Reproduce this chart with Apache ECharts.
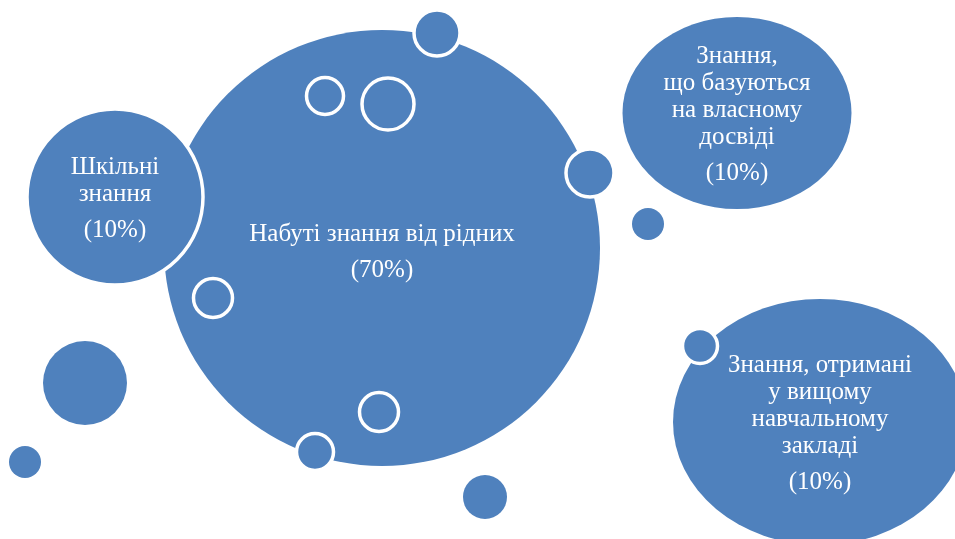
<!DOCTYPE html>
<html>
<head>
<meta charset="utf-8">
<script src="https://cdn.jsdelivr.net/npm/echarts@6/dist/echarts.min.js"></script>
<style>
  html, body { margin: 0; padding: 0; background: #fff; }
  #chart { width: 955px; height: 539px; }
</style>
</head>
<body>
<div id="chart"></div>
<script>
// bubble centres (x, y on the page plane) and diameters [w, h]
var bubbleX = [382, 115, 437, 325, 388, 213, 379, 315, 85, 25, 485, 590, 648, 737, 820, 700];
var bubbleY = [248, 197, 33, 96, 104, 298, 412, 452, 383, 462, 497, 173, 224, 113, 422, 346];
var bubbleW = [436, 176, 46, 37, 52, 39, 39, 37, 84, 32, 44, 48, 32, 229, 294, 35];
var bubbleH = [436, 176, 46, 37, 52, 39, 39, 37, 84, 32, 44, 48, 32, 192, 246, 35];
// "fill" plain, "edge" filled with white outline, "ring" hollow white
var bubbleKind = ["fill", "edge", "edge", "ring", "ring", "ring", "ring", "edge",
                  "fill", "fill", "fill", "edge", "fill", "fill", "fill", "edge"];
var bubbleText = [
  ["Набуті знання від рідних"],
  ["Шкільні", "знання"],
  [], [], [], [], [], [], [], [], [], [], [],
  ["Знання,", "що базуються", "на власному", "досвіді"],
  ["Знання, отримані", "у вищому", "навчальному", "закладі"],
  []
];
var bubbleShare = ["70%", "10%", "", "", "", "", "", "", "", "", "", "", "", "10%", "10%", ""];

var blue = "#4F81BD";
var chart = echarts.init(document.getElementById("chart"));

var data = bubbleX.map(function (x, i) {
  var kind = bubbleKind[i];
  var item = {
    value: [x, bubbleY[i]],
    symbolSize: [bubbleW[i], bubbleH[i]],
    itemStyle: {
      color: kind === "ring" ? "rgba(0,0,0,0)" : blue,
      borderColor: "#fff",
      borderWidth: kind === "fill" ? 0 : 3.5,
      opacity: 1
    }
  };
  if (bubbleText[i].length) {
    item.label = {
      show: true,
      position: "inside",
      offset: [0, i === 0 ? 9 : 6],
      formatter: bubbleText[i].join("\n") + "\n{p|(" + bubbleShare[i] + ")}"
    };
  }
  return item;
});

chart.setOption({
  animation: false,
  grid: { left: 0, right: 0, top: 0, bottom: 0 },
  xAxis: { type: "value", min: 0, max: 955, show: false },
  yAxis: { type: "value", min: 0, max: 539, inverse: true, show: false },
  series: [{
    type: "scatter",
    symbol: "circle",
    data: data,
    itemStyle: { opacity: 1 },
    label: {
      color: "#fff",
      fontFamily: "Liberation Serif",
      fontSize: 25,
      lineHeight: 27,
      align: "center",
      rich: {
        p: { color: "#fff", fontFamily: "Liberation Serif", fontSize: 25, lineHeight: 45 }
      }
    },
    emphasis: { disabled: true }
  }]
});
</script>
</body>
</html>
